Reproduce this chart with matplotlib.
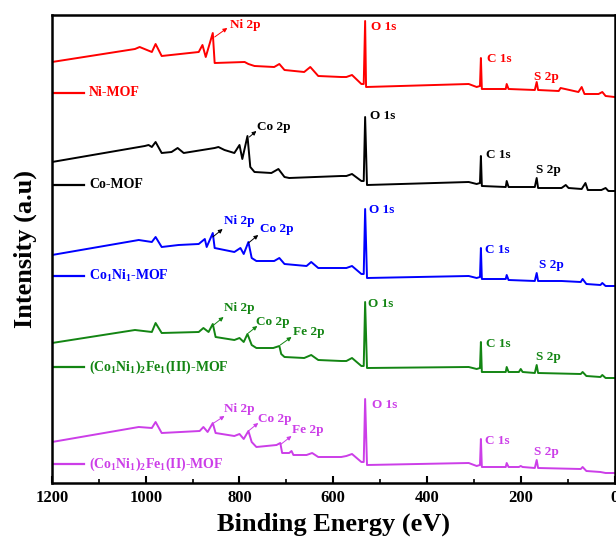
import matplotlib
matplotlib.use('Agg')
import matplotlib.pyplot as plt

# fonts: bold Times-like everywhere, also in the subscripts
plt.rcParams['font.family'] = 'Liberation Serif'
plt.rcParams['font.weight'] = 'bold'
plt.rcParams['axes.labelweight'] = 'bold'
plt.rcParams['mathtext.fontset'] = 'custom'
plt.rcParams['mathtext.rm'] = 'Liberation Serif:bold'
plt.rcParams['mathtext.it'] = 'Liberation Serif:bold'
plt.rcParams['mathtext.bf'] = 'Liberation Serif:bold'

# XPS survey spectra (binding energy in eV, intensity in a.u. incl. stacking offset)
ni_ev = [1200, 1023, 1013, 987, 979, 966, 887, 879, 872, 857, 853, 789, 781, 768, 726, 715, 704,
         662, 649, 632, 583, 572, 560, 540, 535, 532, 530, 311, 294, 287, 285, 283, 232, 230, 226,
         170, 166, 163, 119, 115, 77, 70, 64, 34, 26, 19, 0]
ni_int = [421, 434, 436, 431, 439, 427, 431, 438, 426, 450, 420, 421, 419, 417, 416, 419, 413,
          411, 416, 407, 406, 406, 408, 399, 399, 462, 396, 399, 396, 397, 425, 394, 394, 399, 394,
          393, 401, 393, 392, 395, 391, 396, 389, 389, 391, 387, 386]

co_ev = [1200, 1002, 994, 987, 979, 966, 945, 932, 919, 853, 845, 832, 811, 800, 794, 783, 777,
         768, 732, 717, 704, 694, 583, 572, 560, 540, 535, 532, 528, 311, 294, 287, 285, 283, 232,
         230, 226, 170, 166, 163, 113, 104, 98, 70, 62, 57, 28, 19, 13, 0]
co_int = [321, 337, 338, 336, 341, 330, 331, 335, 330, 335, 336, 333, 330, 338, 324, 347, 316,
          311, 310, 314, 306, 305, 307, 307, 309, 302, 302, 366, 298, 301, 299, 300, 327, 297, 296,
          302, 296, 296, 305, 295, 295, 298, 295, 294, 300, 293, 293, 295, 292, 292]

coni_ev = [1200, 1015, 987, 979, 966, 930, 887, 874, 870, 857, 853, 811, 798, 791, 781, 774, 764,
           726, 715, 704, 657, 647, 632, 583, 572, 560, 540, 535, 532, 528, 311, 294, 287, 285, 283,
           232, 230, 226, 170, 166, 163, 113, 72, 68, 60, 30, 26, 19, 0]
coni_int = [228, 243, 241, 246, 236, 238, 239, 244, 236, 250, 235, 231, 235, 229, 241, 225, 222,
            222, 225, 219, 217, 221, 215, 215, 215, 217, 209, 209, 274, 205, 207, 205, 206, 235, 204,
            204, 208, 203, 202, 210, 202, 202, 201, 204, 199, 198, 200, 197, 197]

fe3_ev = [1200, 1023, 987, 979, 966, 887, 877, 866, 857, 851, 811, 800, 791, 783, 774, 764, 728,
          715, 711, 704, 662, 647, 632, 583, 572, 560, 540, 535, 532, 528, 311, 294, 287, 285, 283,
          232, 230, 226, 204, 200, 196, 170, 166, 163, 72, 68, 60, 30, 26, 19, 0]
fe3_int = [140, 153, 151, 160, 150, 151, 155, 151, 159, 146, 143, 145, 141, 149, 138, 135, 135,
           137, 129, 126, 125, 128, 123, 122, 122, 125, 117, 117, 181, 115, 116, 114, 115, 141, 111,
           111, 116, 111, 111, 114, 111, 110, 118, 110, 109, 111, 107, 106, 108, 105, 105]

fe2_ev = [1200, 1015, 987, 979, 966, 885, 877, 868, 857, 851, 811, 800, 791, 781, 774, 764, 721,
          713, 709, 694, 689, 685, 657, 645, 632, 583, 572, 560, 540, 535, 532, 528, 311, 294, 287,
          285, 283, 232, 230, 226, 204, 200, 196, 170, 166, 163, 72, 68, 60, 30, 19, 0]
fe2_int = [41, 56, 55, 61, 50, 52, 56, 51, 60, 50, 47, 49, 44, 52, 41, 36, 38,
           40, 30, 30, 32, 28, 28, 30, 26, 26, 27, 29, 21, 21, 84, 18, 20, 17, 18,
           44, 16, 16, 20, 16, 16, 17, 16, 15, 23, 15, 14, 16, 12, 11, 10, 10]

names = ['Ni-MOF', 'Co-MOF', r'Co$_1$Ni$_1$-MOF',
         r'(Co$_1$Ni$_1$)$_2$Fe$_1$(III)-MOF', r'(Co$_1$Ni$_1$)$_2$Fe$_1$(II)-MOF']
colors = ['#ff0000', '#000000', '#0000ff', '#138513', '#cc3ee8']
arrow_colors = ['#ff0000', '#000000', '#000000', '#138513', '#cc3ee8']
spectra = [(ni_ev, ni_int), (co_ev, co_int), (coni_ev, coni_int),
           (fe3_ev, fe3_int), (fe2_ev, fe2_int)]
legend_y = [390, 298, 207, 116, 19]

# peak labels: (text, x, y) and arrows: (tail x, tail y, head x, head y)
peak_labels = [
    [('Ni 2p', 821, 458), ('O 1s', 519, 456), ('C 1s', 272, 424), ('S 2p', 172, 406)],
    [('Co 2p', 762, 356), ('O 1s', 521, 367), ('C 1s', 274, 328), ('S 2p', 168, 313)],
    [('Ni 2p', 834, 262), ('Co 2p', 757, 254), ('O 1s', 523, 273), ('C 1s', 277, 233),
     ('S 2p', 162, 218)],
    [('Ni 2p', 834, 175), ('Co 2p', 764, 161), ('Fe 2p', 685, 151), ('O 1s', 526, 179),
     ('C 1s', 274, 139), ('S 2p', 168, 126)],
    [('Ni 2p', 832, 74), ('Co 2p', 760, 64), ('Fe 2p', 687, 53), ('O 1s', 517, 78),
     ('C 1s', 277, 42), ('S 2p', 172, 31)],
]
peak_arrows = [
    [(853, 446, 826, 455)],
    [(779, 346, 764, 352)],
    [(857, 246, 836, 254), (781, 240, 760, 248)],
    [(855, 158, 834, 166), (781, 150, 762, 157), (713, 138, 689, 146)],
    [(855, 60, 832, 67), (781, 52, 760, 60), (711, 39, 689, 47)],
]

fig = plt.figure(figsize=(6.16, 5.45), dpi=100)
ax = fig.add_axes([52 / 616, 62 / 545, 562.5 / 616, 468 / 545])

for (ev, inten), c, name, ly, labs, arrs, ac in zip(spectra, colors, names, legend_y,
                                                   peak_labels, peak_arrows, arrow_colors):
    ax.plot(ev, inten, color=c, lw=1.4, solid_joinstyle='round')
    # legend entry placed under each curve
    ax.plot([1200, 1132], [ly, ly], color=c, lw=1.6)
    ax.text(1121, ly, name, color=c, fontsize=10, ha='left', va='center')
    for t, x, y in labs:
        ax.text(x, y, t, color=c, fontsize=9.5, ha='left', va='center')
    for x0, y0, x1, y1 in arrs:
        ax.annotate('', xy=(x1, y1), xytext=(x0, y0),
                    arrowprops=dict(arrowstyle='-|>', color=ac, lw=0.7,
                                    mutation_scale=6, shrinkA=0, shrinkB=0))

ax.set_xlim(1200, 0)
ax.set_ylim(0, 468)
ax.set_yticks([])
ax.set_xticks([1200, 1000, 800, 600, 400, 200, 0])
ax.set_xticks([1100, 900, 700, 500, 300, 100], minor=True)
ax.tick_params(axis='x', which='major', direction='in', length=5, width=1.5,
               labelsize=12, pad=5)
ax.tick_params(axis='x', which='minor', direction='in', length=3, width=1.2)
for s in ax.spines.values():
    s.set_linewidth(1.8)

ax.set_xlabel('Binding Energy (eV)', fontsize=19)
ax.set_ylabel('Intensity (a.u)', fontsize=19)
ax.xaxis.set_label_coords(0.5, -0.064)
ax.yaxis.set_label_coords(-0.027, 0.5)

fig.savefig('out.png', dpi=100)
